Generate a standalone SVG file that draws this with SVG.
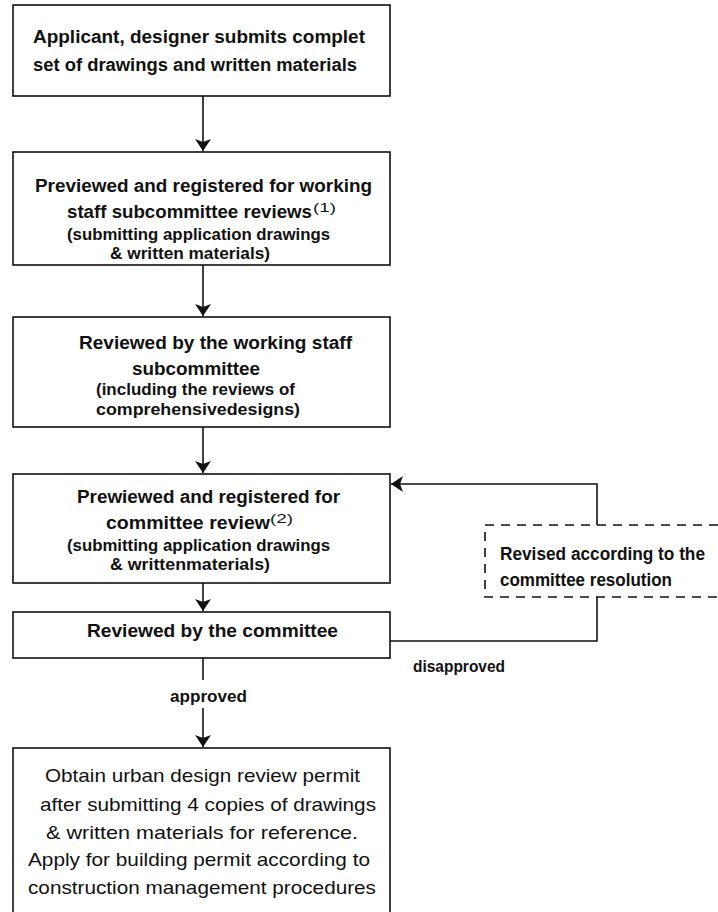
<svg xmlns="http://www.w3.org/2000/svg" width="718" height="912" viewBox="0 0 718 912">
<style>
.box{fill:#fff;stroke:#111;stroke-width:1.6}
.dash{fill:#fff;stroke:#111;stroke-width:1.6;stroke-dasharray:9 7}
.ln{fill:none;stroke:#111;stroke-width:1.6}
.t{font-family:"Liberation Sans",Arial,sans-serif;font-weight:bold;font-size:18px;fill:#111}
.s{font-family:"Liberation Sans",Arial,sans-serif;font-weight:bold;font-size:16.5px;fill:#111}
.r{font-family:"Liberation Sans",Arial,sans-serif;font-size:19px;fill:#111}
.sup{font-weight:normal;font-size:13px}
</style>
<defs>
<marker id="ah" viewBox="0 0 12 16" refX="12" refY="8" markerWidth="12" markerHeight="16" markerUnits="userSpaceOnUse" orient="auto">
<path d="M0,0 L12,8 L0,16 L3,8 Z" fill="#111"/>
</marker>
</defs>
<rect width="718" height="912" fill="#fff"/>
<g id="connectors">
<line class="ln" x1="203" y1="96" x2="203" y2="151" marker-end="url(#ah)"/>
<line class="ln" x1="203" y1="265" x2="203" y2="316" marker-end="url(#ah)"/>
<line class="ln" x1="203" y1="427" x2="203" y2="473" marker-end="url(#ah)"/>
<line class="ln" x1="203" y1="583" x2="203" y2="611" marker-end="url(#ah)"/>
<line class="ln" x1="203" y1="658" x2="203" y2="680"/>
<line class="ln" x1="203" y1="708" x2="203" y2="747" marker-end="url(#ah)"/>
<polyline class="ln" points="597,525 597,484 391,484" marker-end="url(#ah)"/>
<polyline class="ln" points="597,597 597,641 390,641"/>
<text class="s" x="413" y="672" textLength="92" lengthAdjust="spacingAndGlyphs">disapproved</text>
<text class="s" x="170" y="702" textLength="77" lengthAdjust="spacingAndGlyphs">approved</text>
</g>
<g id="n1">
<rect class="box" x="13" y="5" width="377" height="91"/>
<text class="t" x="33" y="43" textLength="332" lengthAdjust="spacingAndGlyphs">Applicant, designer submits complet</text>
<text class="t" x="33" y="71" textLength="324" lengthAdjust="spacingAndGlyphs">set of drawings and written materials</text>
</g>
<g id="n2">
<rect class="box" x="13" y="152" width="377" height="113"/>
<text class="t" x="35" y="192" textLength="337" lengthAdjust="spacingAndGlyphs">Previewed and registered for working</text>
<text class="t" x="67" y="218" textLength="245" lengthAdjust="spacingAndGlyphs">staff subcommittee reviews</text>
<text class="t sup" x="313" y="212" textLength="23" lengthAdjust="spacingAndGlyphs">(1)</text>
<text class="s" x="67" y="240" textLength="263" lengthAdjust="spacingAndGlyphs">(submitting application drawings</text>
<text class="s" x="110" y="259" textLength="160" lengthAdjust="spacingAndGlyphs">&amp; written materials)</text>
</g>
<g id="n3">
<rect class="box" x="13" y="317" width="377" height="110"/>
<text class="t" x="79" y="349" textLength="273" lengthAdjust="spacingAndGlyphs">Reviewed by the working staff</text>
<text class="t" x="132" y="375" textLength="128" lengthAdjust="spacingAndGlyphs">subcommittee</text>
<text class="s" x="96" y="395" textLength="199" lengthAdjust="spacingAndGlyphs">(including the reviews of</text>
<text class="s" x="96" y="415" textLength="204" lengthAdjust="spacingAndGlyphs">comprehensivedesigns)</text>
</g>
<g id="n4">
<rect class="box" x="13" y="474" width="377" height="109"/>
<text class="t" x="77" y="503" textLength="263" lengthAdjust="spacingAndGlyphs">Prewiewed and registered for</text>
<text class="t" x="106" y="529" textLength="164" lengthAdjust="spacingAndGlyphs">committee review</text>
<text class="t sup" x="270" y="523" textLength="23" lengthAdjust="spacingAndGlyphs">(2)</text>
<text class="s" x="67" y="551" textLength="263" lengthAdjust="spacingAndGlyphs">(submitting application drawings</text>
<text class="s" x="110" y="570" textLength="160" lengthAdjust="spacingAndGlyphs">&amp; writtenmaterials)</text>
</g>
<g id="n5">
<rect class="box" x="13" y="612" width="377" height="46"/>
<text class="t" x="87" y="637" textLength="251" lengthAdjust="spacingAndGlyphs">Reviewed by the committee</text>
</g>
<g id="n6">
<rect class="box" x="13" y="748" width="377" height="180"/>
<text class="r" x="45" y="782" textLength="315" lengthAdjust="spacingAndGlyphs">Obtain urban design review permit</text>
<text class="r" x="40" y="811" textLength="336" lengthAdjust="spacingAndGlyphs">after submitting 4 copies of drawings</text>
<text class="r" x="46" y="839" textLength="312" lengthAdjust="spacingAndGlyphs">&amp; written materials for reference.</text>
<text class="r" x="28" y="866" textLength="342" lengthAdjust="spacingAndGlyphs">Apply for building permit according to</text>
<text class="r" x="28" y="894" textLength="348" lengthAdjust="spacingAndGlyphs">construction management procedures</text>
</g>
<g id="n7">
<rect class="dash" x="485" y="525" width="240" height="72"/>
<text class="t" x="500" y="560" textLength="205" lengthAdjust="spacingAndGlyphs">Revised according to the</text>
<text class="t" x="500" y="586" textLength="172" lengthAdjust="spacingAndGlyphs">committee resolution</text>
</g>
</svg>
